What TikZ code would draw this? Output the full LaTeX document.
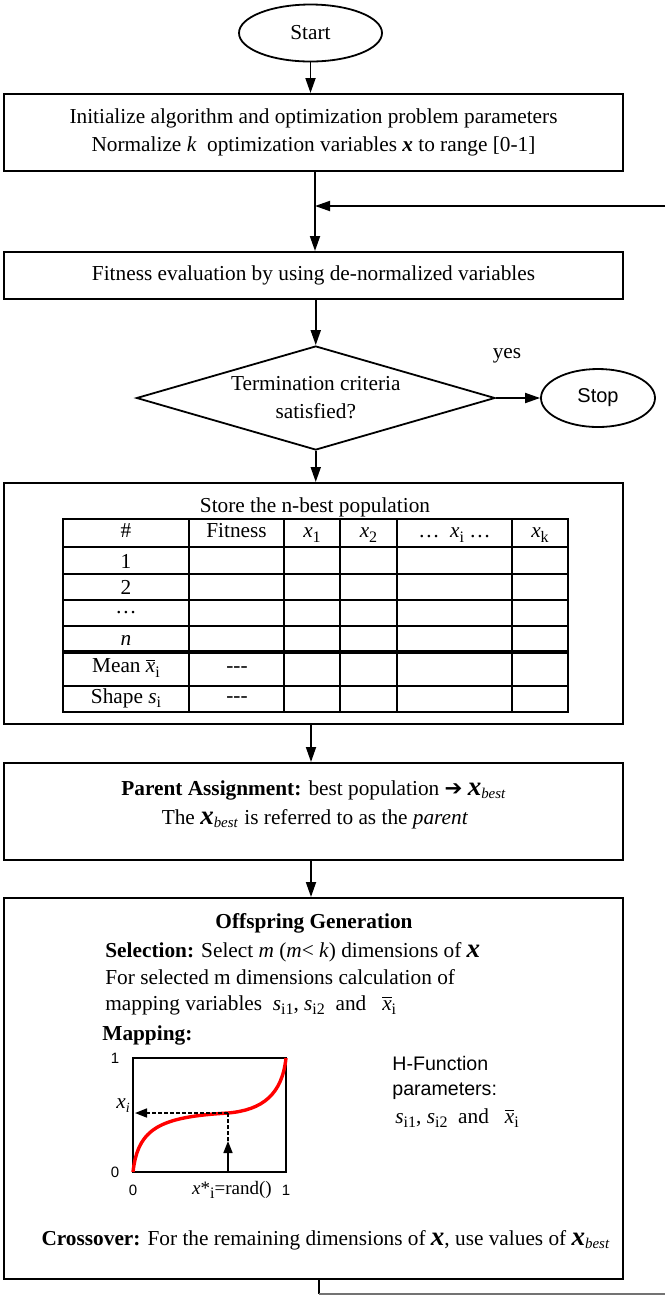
\documentclass[tikz,border=0pt]{standalone}
\usepackage{fontspec}
\setmainfont{Liberation Serif}
\newfontfamily\arialf{Liberation Sans}
\newfontfamily\dejavuf{DejaVu Sans}
\usetikzlibrary{shapes.geometric,arrows.meta}
\newcommand\BX{{\fontsize{13.5}{13.5}\selectfont\bfseries\itshape x}}
\newcommand\xbest{\BX\textsubscript{\textit{best}}}
\newcommand\sbs[1]{\raisebox{-0.45ex}{\fontsize{8}{8}\selectfont #1}}
\newcommand\xbr{$\overline{\mbox{\textit{x}}}$}
\begin{document}
\begin{tikzpicture}[x=0.5pt,y=-0.5pt,
  font=\fontsize{10.65}{14}\selectfont,
  box/.style={draw,line width=1pt,minimum width=309.5pt,inner sep=0pt,align=center},
  arr/.style={line width=0.9pt,-{Triangle[length=7.5pt,width=5pt]}},
  txt/.style={inner sep=0pt,align=center},
  lft/.style={inner sep=0pt,anchor=west},
  grid/.style={line width=1pt},
  thin/.style={line width=0.8pt},
  sans/.style={inner sep=0pt,font=\arialf\fontsize{7.5}{9}\selectfont},
]
\useasboundingbox (0,0) rectangle (665,1303);

% nodes
\node[ellipse,draw,line width=0.9pt,minimum width=71.5pt,minimum height=28.5pt,inner sep=0pt] (start) at (310.5,33) {Start};
\node[box,minimum height=38.5pt] (b1) at (313.5,132.5) {Initialize algorithm and optimization problem parameters\\ Normalize \textit{k}\ \ optimization variables \textbf{\textit{x}} to range [0-1]};
\node[box,minimum height=23.5pt] (b2) at (313.5,275.5) {Fitness evaluation by using de-normalized variables};
\node[diamond,draw,line width=0.9pt,minimum width=179.25pt,minimum height=52pt,inner sep=0pt,aspect=3.45,align=center] (dia) at (315.75,398) {Termination criteria\\satisfied?};
\node[ellipse,draw,line width=0.9pt,minimum width=57pt,minimum height=29pt,inner sep=0pt,font=\arialf\fontsize{10}{12}\selectfont] (stop) at (598,398) {Stop};
\node[txt] (yes) at (507,356) {yes};
\node[box,minimum height=120.5pt] (b3) at (313.5,603.5) {};
\node[box,minimum height=48.5pt] (b4) at (313.5,811.5) {};
\node[box,minimum height=190.5pt] (b5) at (313.5,1088.5) {};

% connectors
\coordinate (j) at (315,206);
\coordinate (k) at (311,0);
\coordinate (m) at (319,1294);
\coordinate (fbin) at (665,206);
\coordinate (fbout) at (665,1294);
\draw[arr] (start) -- (start.south |- b1.north);
\draw[arr] (b1.south -| j) -- (b2.north -| j);
\draw[arr] (fbin) -- (j);
\draw[arr] (b2.south -| dia.north) -- (dia.north);
\draw[arr] (dia.east) -- (stop.west);
\draw[arr] (dia.south) -- (dia.south |- b3.north);
\draw[arr] (b3.south -| k) -- (b4.north -| k);
\draw[arr] (b4.south -| k) -- (b5.north -| k);
\draw[line width=0.9pt] (b5.south -| m) -- (m);
\draw[line width=0.7pt,black!55] (m) -- (fbout);

% box 3 : table
\node[txt] (tt) at (315,507) {Store the n-best population};
\draw[grid] (62.5,519) rectangle (568,712);
\foreach \yy in {547,574,600,626,686} \draw[grid] (62.5,\yy) -- (568,\yy);
\draw[line width=2.2pt] (62.5,652) -- (568,652);
\foreach \xx in {189,284,340,397,512} \draw[grid] (\xx,519) -- (\xx,712);
\node[txt] (h1) at (126,531) {\#};
\node[txt] (h2) at (236.5,531) {Fitness};
\node[txt] (h3) at (312,535) {\textit{x}\sbs{1}};
\node[txt] (h4) at (368.5,535) {\textit{x}\sbs{2}};
\node[txt] (h5) at (454.5,535) {\dots\ \ \textit{x}\sbs{i} \dots};
\node[txt] (h6) at (540,535) {\textit{x}\sbs{k}};
\node[txt] (r1) at (126,561) {1};
\node[txt] (r2) at (126,587) {2};
\node[txt] (r3) at (126,613) {\dots};
\node[txt] (r4) at (126,640) {\textit{n}};
\node[txt] (r5) at (126,668) {Mean \xbr\sbs{i}};
\node[txt] (r6) at (126,698) {Shape \textit{s}\sbs{i}};
\node[txt] (f5) at (237,670) {-{}-{}-};
\node[txt] (f6) at (237,700) {-{}-{}-};

% box 4
\node[txt] (p1) at (314,790) {\textbf{Parent Assignment:} best population {\dejavuf\bfseries ➔} \xbest};
\node[txt] (p2) at (315,819) {The \xbest\ is referred to as the \textit{parent}};

% box 5
\node[txt] (og) at (314,923) {\textbf{Offspring Generation}};
\node[lft] (s1) at (105,952) {\textbf{Selection:} Select \textit{m} (\textit{m}< \textit{k}) dimensions of \BX};
\node[lft] (s2) at (105,977) {For selected m dimensions calculation of};
\node[lft] (s3) at (105,1005) {mapping variables\ \ \textit{s}\sbs{i1}, \textit{s}\sbs{i2}\ \ and\ \ \ \xbr\sbs{i}};
\node[lft] (mp) at (102,1035) {\textbf{Mapping:}};

% plot
\coordinate (pbl) at (133,1172);
\coordinate (ptr) at (286,1058);
\coordinate (px) at (228,1113);
\coordinate (py) at (135,1113);
\coordinate (pb) at (228,1172);
\coordinate (pa) at (228,1141);
\draw[thin] (pbl) rectangle (ptr);
\draw[red,line width=1.7pt] (pbl) .. controls (138,1128) and (160,1117) .. (px) .. controls (262,1110) and (282,1095) .. (ptr);
\draw[thin,dash pattern=on 2pt off 1pt,-{Triangle[length=6pt,width=4.5pt]}] (px) -- (py);
\draw[thin,dash pattern=on 2pt off 1pt] (pa) -- (px);
\draw[thin,-{Triangle[length=6pt,width=4.5pt]}] (pb) -- (pa);
\node[sans] (l1) at (115,1058) {1};
\node[sans] (l0) at (115,1172) {0};
\node[sans] (lx0) at (133,1190) {0};
\node[sans] (lx1) at (286,1190) {1};
\node[txt,font=\fontsize{9.5}{11}\selectfont] (rnd) at (232,1190) {\textit{x}*\sbs{i}=rand()};
\node[txt] (xi) at (123,1106) {\textit{x}\raisebox{-0.4ex}{\fontsize{7}{7}\selectfont\textit{i}}};
\node[lft,font=\arialf\fontsize{9.8}{12}\selectfont] (hf1) at (392,1063) {H-Function};
\node[lft,font=\arialf\fontsize{9.8}{12}\selectfont] (hf2) at (392,1091) {parameters:};
\node[lft] (hf3) at (395,1118) {\textit{s}\sbs{i1}, \textit{s}\sbs{i2}\ \ and\ \ \ \xbr\sbs{i}};

\node[txt] (cx) at (326,1240) {\textbf{Crossover:} For the remaining dimensions of \BX, use values of \xbest};
\end{tikzpicture}
\end{document}
